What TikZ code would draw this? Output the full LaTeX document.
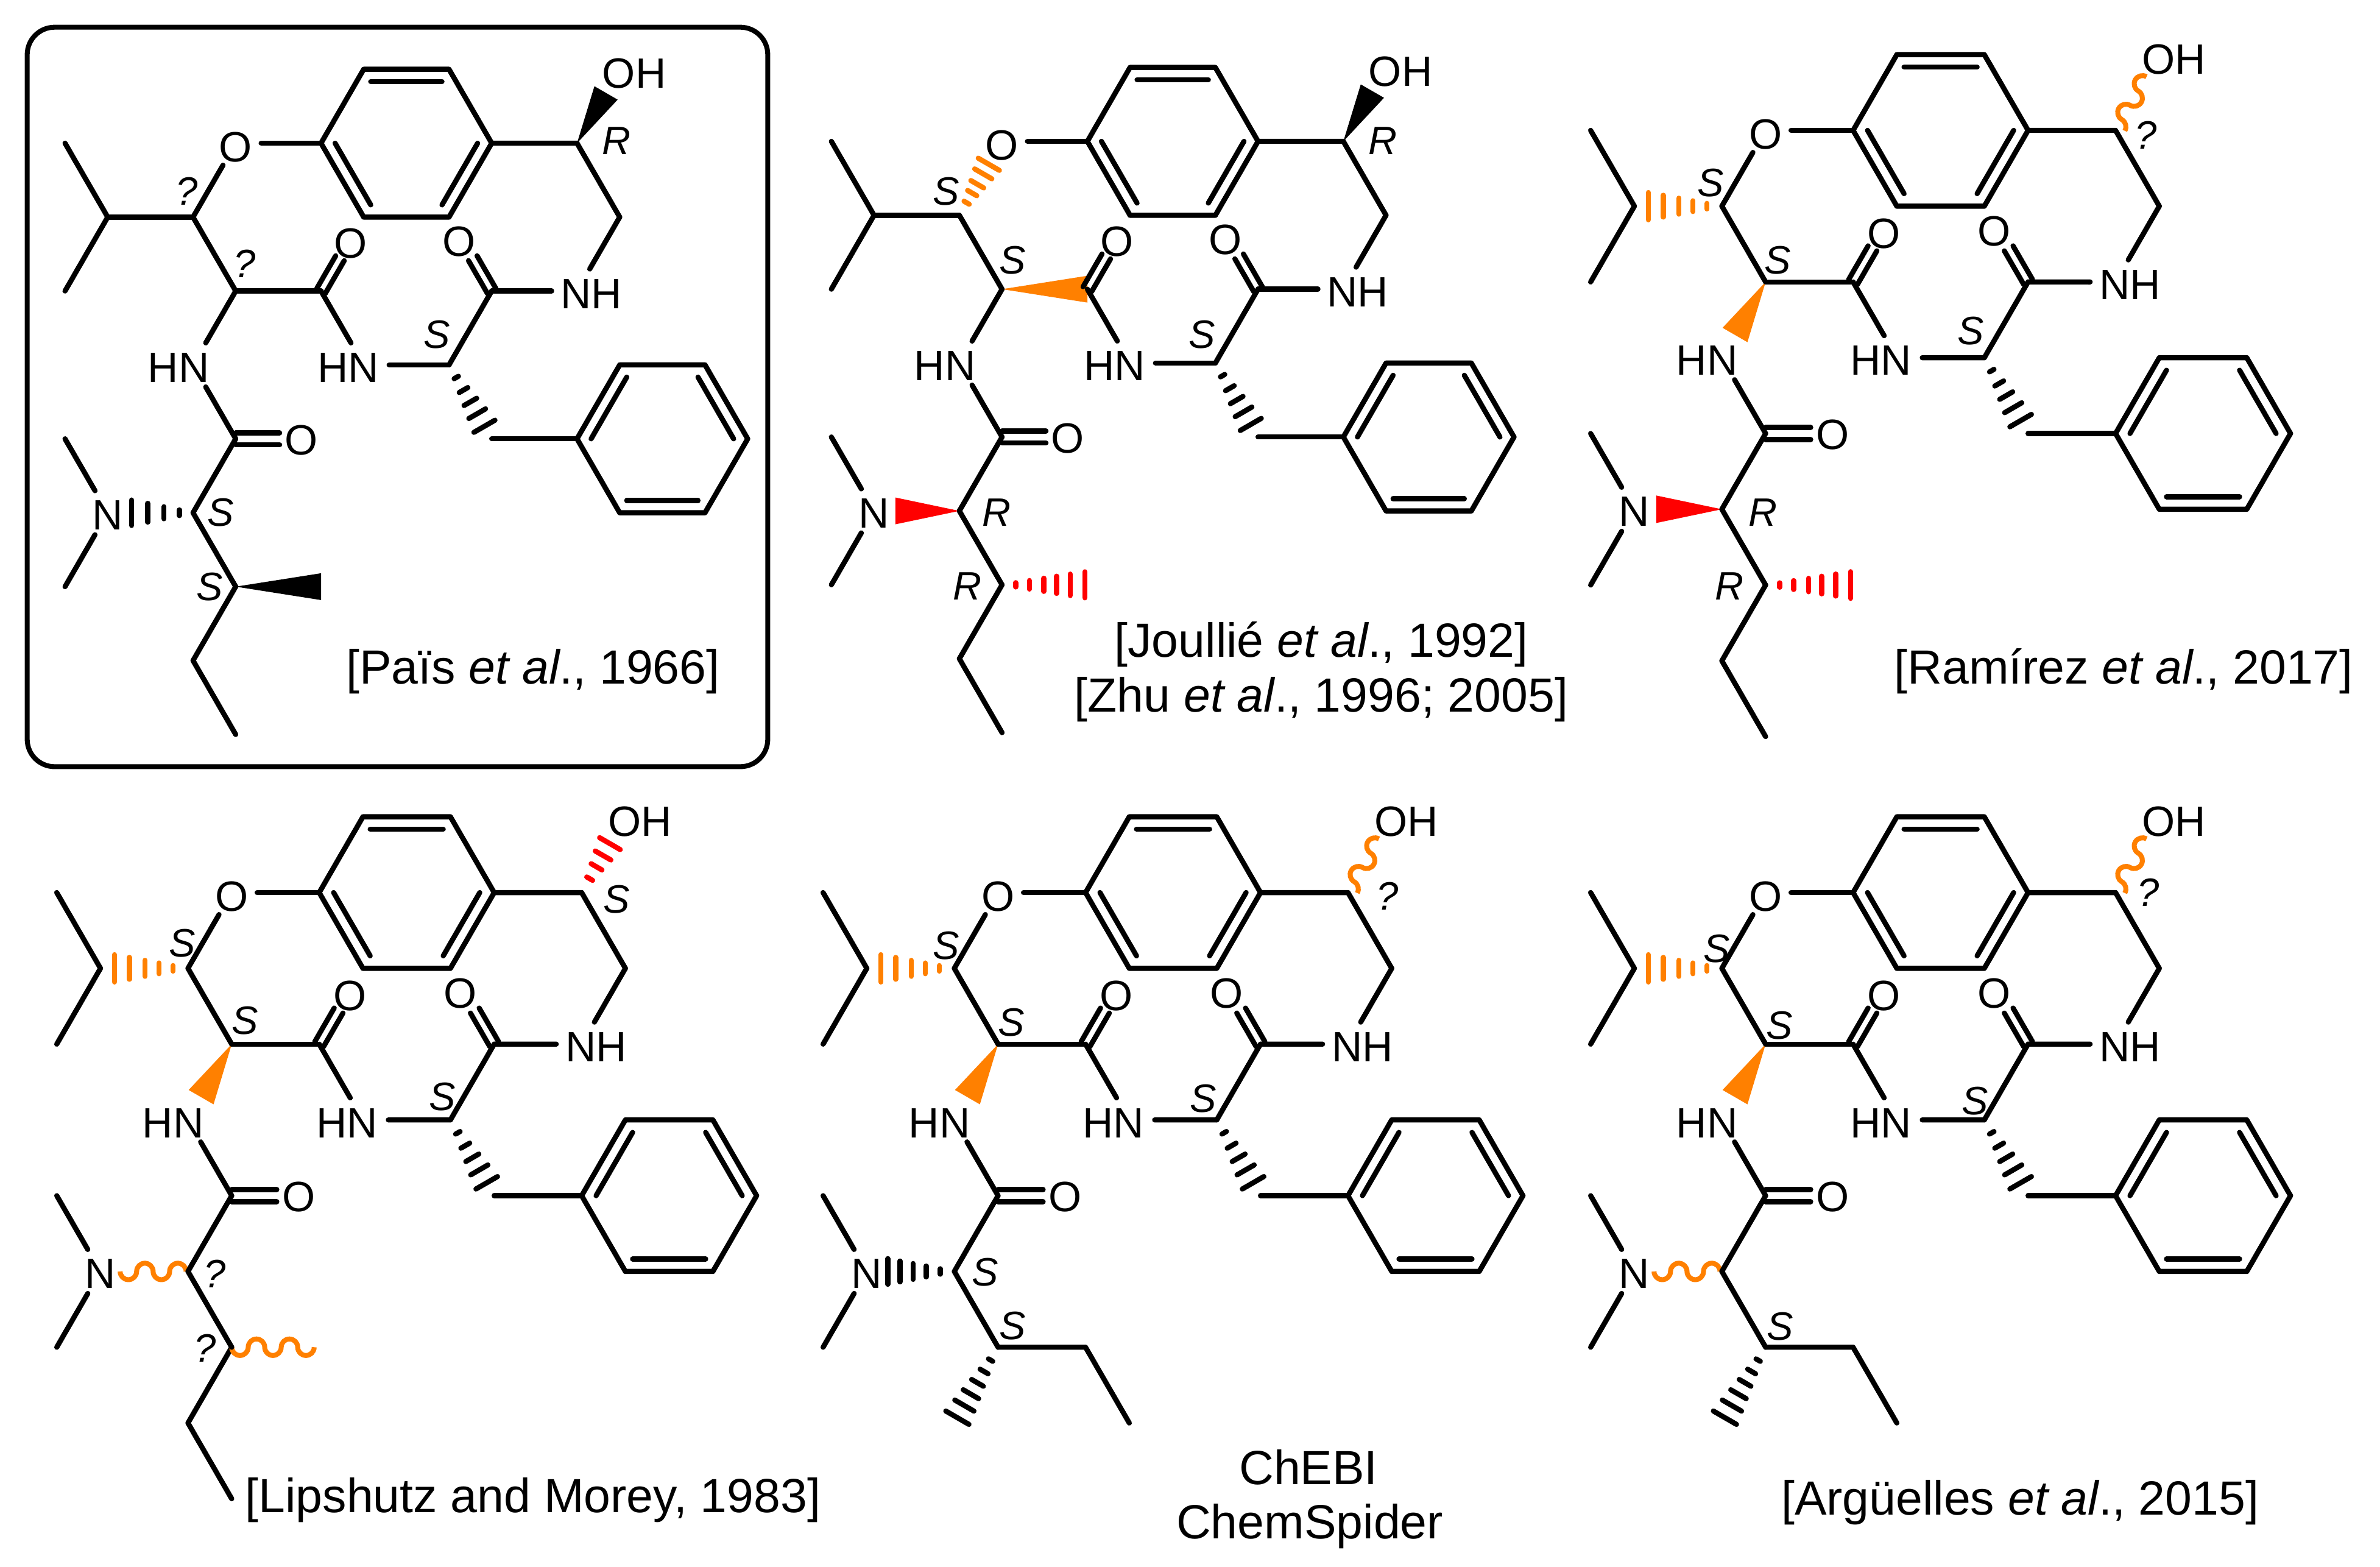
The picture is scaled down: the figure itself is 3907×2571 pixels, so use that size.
\documentclass[tikz,border=0pt]{standalone}
\usepackage{fontspec}
\setmainfont{Liberation Sans}
\usetikzlibrary{calc}
\definecolor{bondorange}{RGB}{255,128,0}
\definecolor{bondred}{RGB}{255,0,0}
\tikzset{
 bond/.style={line width=2.4pt,line cap=round,line join=round,black},
 cbond/.style={line width=2.4pt,line cap=round,line join=round,draw=#1},
 wavebond/.style={line width=2.3pt,line cap=butt,line join=round,draw=bondorange},
 het/.style={circle,inner sep=0pt,minimum size=.82cm},
 lab/.style={inner sep=0pt,font=\fontsize{19.8pt}{22pt}\selectfont},
 stereo/.style={inner sep=0pt,font=\fontsize{18.5pt}{20pt}\selectfont\itshape},
 cite/.style={inner sep=0pt,font=\fontsize{22.4pt}{26pt}\selectfont},
 up/.style={start angle=180,end angle=0,radius=.132cm},
 dn/.style={start angle=180,end angle=360,radius=.132cm},
}
% filled wedge: tip, wide end, half width (px), colour
\newcommand\wedgeb[4]{%
 \pgfmathsetmacro\hwd{#3*.2845}%
 \fill[#4] (#1) -- ($(#2)!\hwd pt!90:(#1)$) -- ($(#2)!\hwd pt!-90:(#1)$) -- cycle;}
% hashed bond: tip, wide end, half width at end (px), colour, positions
\newcommand\hashb[5]{%
 \foreach \tt in {#5}{%
  \pgfmathsetmacro\hwd{#3*.2845*\tt}%
  \draw[cbond=#4] ($(#1)!\tt!(#2)!\hwd pt!90:(#1)$) -- ($(#1)!\tt!(#2)!\hwd pt!-90:(#1)$);}}
\newcommand\ethdown{\draw[bond] (Cg) -- (Da) -- (Db);}
\newcommand\ethright{\draw[bond] (Cg) -- (E1) -- (E2);}
\newcommand\waveOH{\begin{scope}[shift={(Cy)},rotate=60,x=.01cm,y=.01cm]
 \draw[wavebond] (6.8,-13.2) arc[start angle=270,end angle=360,radius=.132cm] arc[up] arc[dn] arc[up];
 \end{scope}}
\newcommand\waveN{\begin{scope}[shift={(Cb)},rotate=180,x=.01cm,y=.01cm]
 \draw[wavebond] (3,0) arc[dn] arc[up] arc[dn] arc[up];
 \end{scope}}
\newcommand\waveMe{\begin{scope}[shift={(Cg)},x=.01cm,y=.01cm]
 \draw[wavebond] (0,0) arc[dn] arc[up] arc[dn] arc[up] arc[dn];
 \end{scope}}
\newcommand\hashIso{\hashb{C1}{Ci}{26}{bondorange}{.17,.33,.49,.67,.84}}
\newcommand\wedgeNH{\wedgeb{Ca}{Wn}{23}{bondorange}}
\newcommand\plainCaCO{\draw[bond] (Ca) -- (CO1);}
\newcommand\plainCO{\draw[bond] (C1) -- (Oe);}
\newcommand\plainIso{\draw[bond] (C1) -- (Ci);}
\newcommand\plainCaN{\draw[bond] (Ca) -- (N3);}
\newcommand\moleculeframe[5]{%
\begin{scope}[name prefix=#1-,shift={(#2,#3)},x=.7cm,y=-1.2124cm,scale=#4]
 \coordinate (R0) at (0,0); \coordinate (R1) at (1,-1); \coordinate (R2) at (3,-1);
 \coordinate (R3) at (4,0); \coordinate (R4) at (3,1); \coordinate (R5) at (1,1); \coordinate (Rc) at (2,0);
 \coordinate (Ci) at (-5,1); \coordinate (Ma) at (-6,0); \coordinate (Mb) at (-6,2);
 \coordinate (C1) at (-3,1); \coordinate (Ca) at (-2,2); \coordinate (CO1) at (0,2);
 \coordinate (CH) at (3,3); \coordinate (CO2) at (4,2); \coordinate (Cx) at (7,1); \coordinate (Cy) at (6,0);
 \coordinate (Bn) at (4,4); \coordinate (P0) at (6,4); \coordinate (P1) at (7,3); \coordinate (P2) at (9,3);
 \coordinate (P3) at (10,4); \coordinate (P4) at (9,5); \coordinate (P5) at (7,5); \coordinate (Pc) at (8,4);
 \coordinate (CO3) at (-2,4); \coordinate (Cb) at (-3,5); \coordinate (Cg) at (-2,6);
 \coordinate (M1) at (-6,4); \coordinate (M2) at (-6,6);
 \coordinate (Da) at (-3,7); \coordinate (Db) at (-2,8); \coordinate (E1) at (0,6); \coordinate (E2) at (1,7);
 \coordinate (OHe) at (6.68,-.68); \coordinate (Oc) at (-2,0); \coordinate (N4c) at (-5,5);
 \coordinate (Wn) at (-2.7,2.7); \coordinate (Rn) at (-4.5,5);
 \coordinate (A1) at (-.1,1.967); \coordinate (A2) at (.343,1.524);
 \coordinate (B1) at (.1,2.033); \coordinate (B2) at (.543,1.59);
 \coordinate (A3) at (4.1,1.967); \coordinate (A4) at (3.657,1.524);
 \coordinate (B3) at (3.9,2.033); \coordinate (B4) at (3.457,1.59);
 \coordinate (A5) at (-2,3.92); \coordinate (A6) at (-.97,3.92);
 \coordinate (B5) at (-2,4.08); \coordinate (B6) at (-.97,4.08);
 \node[het] (Oe) at (-2,0) {};
 \node[het] (N1) at (1,3) {};
 \node[het] (N2) at (6,2) {};
 \node[het] (N3) at (-3,3) {};
 \node[het] (N4) at (-5,5) {};
 #5
 \draw[bond] (R0) -- (R1) -- (R2) -- (R3) -- (R4) -- (R5) -- cycle;
 \draw[bond] ($(R1)!.165!(Rc)$) -- ($(R2)!.165!(Rc)$);
 \draw[bond] ($(R3)!.165!(Rc)$) -- ($(R4)!.165!(Rc)$);
 \draw[bond] ($(R5)!.165!(Rc)$) -- ($(R0)!.165!(Rc)$);
 \draw[bond] (Oe) -- (R0);
 \draw[bond] (Ma) -- (Ci) -- (Mb);
 \draw[bond] (C1) -- (Ca);
 \draw[bond] (CO1) -- (N1);
 \draw[bond] (A1) -- (A2);
 \draw[bond] (B1) -- (B2);
 \draw[bond] (N1) -- (CH);
 \draw[bond] (CH) -- (CO2);
 \draw[bond] (A3) -- (A4);
 \draw[bond] (B3) -- (B4);
 \draw[bond] (CO2) -- (N2);
 \draw[bond] (N2) -- (Cx);
 \draw[bond] (Cx) -- (Cy) -- (R3);
 \hashb{CH}{Bn}{24}{black}{.17,.34,.5,.66,.83}
 \draw[bond] (Bn) -- (P0);
 \draw[bond] (P0) -- (P1) -- (P2) -- (P3) -- (P4) -- (P5) -- cycle;
 \draw[bond] ($(P0)!.165!(Pc)$) -- ($(P1)!.165!(Pc)$);
 \draw[bond] ($(P2)!.165!(Pc)$) -- ($(P3)!.165!(Pc)$);
 \draw[bond] ($(P4)!.165!(Pc)$) -- ($(P5)!.165!(Pc)$);
 \draw[bond] (N3) -- (CO3);
 \draw[bond] (A5) -- (A6);
 \draw[bond] (B5) -- (B6);
 \draw[bond] (CO3) -- (Cb);
 \draw[bond] (N4) -- (M1);
 \draw[bond] (N4) -- (M2);
 \draw[bond] (Cb) -- (Cg);
 \node[lab] (tO0) at (-2,.05) {O};
 \node[lab] (tO1) at (.7,1.36) {O};
 \node[lab] (tO2) at (3.23,1.33) {O};
 \node[lab] (tO3) at (-.47,4.02) {O};
 \node[lab] (tN1) at (.64,3.04) {HN};
 \node[lab] (tN2) at (6.33,2.04) {NH};
 \node[lab] (tN3) at (-3.34,3.04) {HN};
 \node[lab] (tN4) at (-5,5.03) {N};
 \node[lab] (tOH) at (7.34,-.94) {OH};
\end{scope}}
\begin{document}
\begin{tikzpicture}[x=.01cm,y=-.01cm]
\useasboundingbox (0,0) rectangle (3907,2571);
\fill[white] (0,0) rectangle (3907,2571);
\node[draw,line width=2.3pt,rounded corners=.45cm,inner sep=0pt,minimum width=12.15cm,minimum height=12.13cm] (box) at (652.5,651.5) {};
% molecule 1
\moleculeframe{m1}{527}{235}{1}{%
 \ethdown \plainIso \plainCO \plainCaN \plainCaCO
 \wedgeb{Cy}{OHe}{22}{black}
 \hashb{Cb}{N4c}{29}{black}{.16,.34,.53,.72}
 \wedgeb{Cg}{E1}{22}{black}}
\node[stereo] (m1-s1) at (307,314) {?};
\node[stereo] (m1-s2) at (402,433) {?};
\node[stereo] (m1-s3) at (717,549) {S};
\node[stereo] (m1-s4) at (1012,231) {R};
\node[stereo] (m1-s5) at (362,841) {S};
\node[stereo] (m1-s6) at (344,963) {S};
\node[cite] (m1-c) at (875,1102) {[Païs \textit{et al}., 1966]};
% molecule 2
\moleculeframe{m2}{1785}{232}{1}{%
 \ethdown \plainIso \plainCaN
 \hashb{C1}{Oc}{29}{bondorange}{.17,.3,.42,.56,.69}
 \wedgeb{Ca}{CO1}{22}{bondorange}
 \wedgeb{Cy}{OHe}{22}{black}
 \wedgeb{Cb}{Rn}{22}{bondred}
 \hashb{Cg}{E1}{22}{bondred}{.16,.32,.49,.64,.8,.97}}
\node[stereo] (m2-s1) at (1553,314) {S};
\node[stereo] (m2-s2) at (1662,427) {S};
\node[stereo] (m2-s3) at (1973,549) {S};
\node[stereo] (m2-s4) at (2270,231) {R};
\node[stereo] (m2-s5) at (1636,841) {R};
\node[stereo] (m2-s6) at (1588,962) {R};
\node[cite] (m2-c1) at (2169,1058) {[Joullié \textit{et al}., 1992]};
\node[cite] (m2-c2) at (2169,1148) {[Zhu \textit{et al}., 1996; 2005]};
% molecule 3
\moleculeframe{m3}{3042}{214}{1.025}{%
 \ethdown \hashIso \plainCO \wedgeNH \plainCaCO \waveOH
 \wedgeb{Cb}{Rn}{22}{bondred}
 \hashb{Cg}{E1}{22}{bondred}{.16,.32,.49,.64,.8,.97}}
\node[stereo] (m3-s1) at (2808,300) {S};
\node[stereo] (m3-s2) at (2918,427) {S};
\node[stereo] (m3-s3) at (3235,543) {S};
\node[stereo] (m3-s4) at (3523,222) {?};
\node[stereo] (m3-s5) at (2894,841) {R};
\node[stereo] (m3-s6) at (2839,962) {R};
\node[cite] (m3-c) at (3486,1102) {[Ramírez \textit{et al}., 2017]};
% molecule 4
\moleculeframe{m4}{524}{1465}{1.025}{%
 \ethdown \hashIso \plainCO \wedgeNH \plainCaCO
 \hashb{Cy}{OHe}{20}{bondred}{.27,.5,.72,.95}
 \waveN \waveMe}
\node[stereo] (m4-s1) at (299,1548) {S};
\node[stereo] (m4-s2) at (402,1675) {S};
\node[stereo] (m4-s3) at (726,1800) {S};
\node[stereo] (m4-s4) at (1012,1476) {S};
\node[stereo] (m4-s5) at (353,2091) {?};
\node[stereo] (m4-s6) at (337,2213) {?};
\node[cite] (m4-c) at (875,2462) {[Lipshutz and Morey, 1983]};
% molecule 5
\moleculeframe{m5}{1782}{1465}{1.025}{%
 \ethright \hashIso \plainCO \wedgeNH \plainCaCO \waveOH
 \hashb{Cb}{N4c}{27}{black}{.16,.32,.47,.62,.76}
 \hashb{Cg}{Da}{23}{black}{.17,.32,.47,.62,.77,.93}}
\node[stereo] (m5-s1) at (1553,1552) {S};
\node[stereo] (m5-s2) at (1660,1678) {S};
\node[stereo] (m5-s3) at (1975,1803) {S};
\node[stereo] (m5-s4) at (2278,1471) {?};
\node[stereo] (m5-s5) at (1617,2088) {S};
\node[stereo] (m5-s6) at (1662,2176) {S};
\node[cite] (m5-c1) at (2148,2408) {ChEBI};
\node[cite] (m5-c2) at (2150,2505) {ChemSpider};
% molecule 6
\moleculeframe{m6}{3042}{1465}{1.025}{%
 \ethright \hashIso \plainCO \wedgeNH \plainCaCO \waveOH \waveN
 \hashb{Cg}{Da}{23}{black}{.17,.32,.47,.62,.77,.93}}
\node[stereo] (m6-s1) at (2818,1557) {S};
\node[stereo] (m6-s2) at (2921,1683) {S};
\node[stereo] (m6-s3) at (3242,1807) {S};
\node[stereo] (m6-s4) at (3527,1465) {?};
\node[stereo] (m6-s5) at (2922,2177) {S};
\node[cite] (m6-c) at (3316,2466) {[Argüelles \textit{et al}., 2015]};
\end{tikzpicture}
\end{document}
